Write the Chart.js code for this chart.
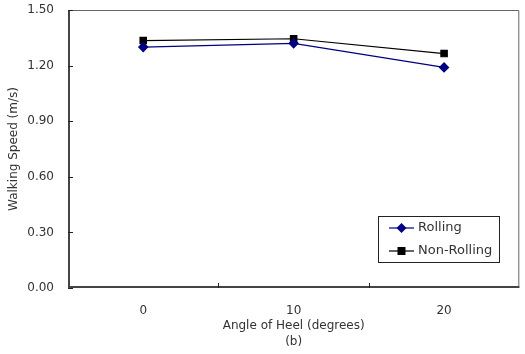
<!DOCTYPE html>
<html>
<head>
<meta charset="utf-8">
<script src="https://cdn.jsdelivr.net/npm/chart.js@4.4.1/dist/chart.umd.min.js"></script>
<style>
  html, body { margin: 0; padding: 0; background: #fff; }
  #wrap { width: 525px; height: 354px; position: relative; }
</style>
</head>
<body>
<div id="wrap"><canvas id="chart"></canvas></div>
<script>
// Data
const angles = ['0', '10', '20'];
const rolling = [1.30, 1.32, 1.19];
const nonRolling = [1.335, 1.345, 1.265];
const yTicks = [0, 0.3, 0.6, 0.9, 1.2, 1.5];

const FONT = "'DejaVu Sans', sans-serif";
const TEXT = '#333';

// Frame, inward tick marks and legend box
const framePlugin = {
    id: 'frame',
    afterDraw(chart) {
        const { ctx, chartArea: a, scales } = chart;
        ctx.save();
        // light top/right border
        ctx.strokeStyle = '#666';
        ctx.lineWidth = 1;
        ctx.beginPath();
        ctx.moveTo(a.left, a.top + 0.5);
        ctx.lineTo(a.right - 0.5, a.top + 0.5);
        ctx.lineTo(a.right - 0.5, a.bottom);
        ctx.stroke();
        // heavy left/bottom axes
        ctx.strokeStyle = '#444';
        ctx.lineWidth = 2;
        ctx.beginPath();
        ctx.moveTo(a.left + 1, a.top);
        ctx.lineTo(a.left + 1, a.bottom - 1);
        ctx.lineTo(a.right, a.bottom - 1);
        ctx.stroke();
        // inward ticks
        ctx.lineWidth = 1;
        ctx.strokeStyle = '#222';
        ctx.beginPath();
        yTicks.forEach(v => {
            const y = Math.round(scales.y.getPixelForValue(v)) + 0.5;
            ctx.moveTo(a.left, y);
            ctx.lineTo(a.left + 5, y);
        });
        const step = (a.right - a.left) / angles.length;
        for (let i = 1; i < angles.length; i++) {
            const x = Math.round(a.left + step * i) + 0.5;
            ctx.moveTo(x, a.bottom);
            ctx.lineTo(x, a.bottom - 5);
        }
        ctx.stroke();

        // legend
        const lx = 378, ly = 216, lw = 121, lh = 46;
        ctx.fillStyle = '#fff';
        ctx.fillRect(lx, ly, lw, lh);
        ctx.strokeStyle = '#222';
        ctx.strokeRect(lx + 0.5, ly + 0.5, lw, lh);
        chart.data.datasets.forEach((ds, i) => {
            const y = ly + 12 + i * 23;
            ctx.strokeStyle = ds.borderColor;
            ctx.lineWidth = 1.2;
            ctx.beginPath();
            ctx.moveTo(lx + 11, y);
            ctx.lineTo(lx + 36, y);
            ctx.stroke();
            ctx.fillStyle = ds.pointBackgroundColor;
            ctx.beginPath();
            if (ds.pointStyle === 'rectRot') {
                ctx.moveTo(lx + 23.5, y - 5);
                ctx.lineTo(lx + 28.5, y);
                ctx.lineTo(lx + 23.5, y + 5);
                ctx.lineTo(lx + 18.5, y);
                ctx.closePath();
            } else {
                ctx.rect(lx + 19.5, y - 4, 8, 8);
            }
            ctx.fill();
            ctx.fillStyle = TEXT;
            ctx.font = '13px ' + FONT;
            ctx.textBaseline = 'middle';
            ctx.textAlign = 'left';
            ctx.fillText(ds.label, lx + 40, y);
        });
        ctx.restore();
    }
};

new Chart(document.getElementById('chart'), {
    type: 'line',
    data: {
        labels: angles,
        datasets: [
            {
                label: 'Rolling',
                data: rolling,
                borderColor: '#000080',
                backgroundColor: '#000080',
                pointBackgroundColor: '#000080',
                pointBorderColor: '#000080',
                pointStyle: 'rectRot',
                pointRadius: 4.5,
                borderWidth: 1.2
            },
            {
                label: 'Non-Rolling',
                data: nonRolling,
                borderColor: '#000',
                backgroundColor: '#000',
                pointBackgroundColor: '#000',
                pointBorderColor: '#000',
                pointStyle: 'rect',
                pointRadius: 4.5,
                borderWidth: 1.2
            }
        ]
    },
    options: {
        responsive: true,
        maintainAspectRatio: false,
        animation: false,
        layout: { padding: { top: 10, right: 3, left: 0, bottom: 0 } },
        plugins: { legend: { display: false }, tooltip: { enabled: false } },
        scales: {
            x: {
                offset: true,
                border: { display: false },
                grid: { display: false },
                ticks: { color: TEXT, font: { family: FONT, size: 12 }, padding: 8 },
                title: {
                    display: true,
                    text: ['Angle of Heel (degrees)', '(b)'],
                    color: TEXT,
                    font: { family: FONT, size: 12, lineHeight: 1.35 },
                    padding: { top: 0, bottom: 4 }
                },
                afterFit: (scale) => { scale.height = 66; }
            },
            y: {
                min: 0,
                max: 1.5,
                border: { display: false },
                grid: { display: false },
                afterBuildTicks: (scale) => { scale.ticks = yTicks.map(v => ({ value: v })); },
                ticks: {
                    color: TEXT,
                    font: { family: FONT, size: 12 },
                    padding: 6,
                    callback: (v) => Number(v).toFixed(2)
                },
                title: {
                    display: true,
                    text: 'Walking Speed (m/s)',
                    color: TEXT,
                    font: { family: FONT, size: 12 },
                    padding: { top: 7, bottom: 0 }
                },
                afterFit: (scale) => {
                    scale.width = 68;
                    scale.paddingTop = 0;
                    scale.paddingBottom = 0;
                }
            }
        }
    },
    plugins: [framePlugin]
});
</script>
</body>
</html>
